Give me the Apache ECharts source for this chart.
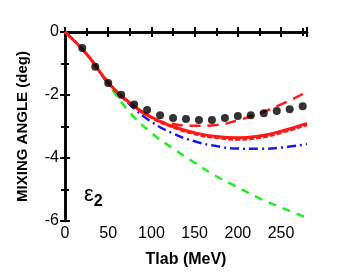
<!DOCTYPE html>
<html><head><meta charset="utf-8">
<script src="https://cdn.jsdelivr.net/npm/echarts@6/dist/echarts.min.js"></script>
<style>html,body{margin:0;padding:0;background:#fff}#c{width:357px;height:273px}</style>
</head><body><div id="c"></div>
<script>
var xTicks = [0, 50, 100, 150, 200, 250];
var yTicks = [0, -2, -4, -6];
var dotX = [20, 35, 50, 65, 80, 95, 110, 125, 140, 155, 170, 185, 200, 215, 230, 245, 260, 275];
var dotY = [-0.51, -1.10, -1.62, -1.99, -2.30, -2.48, -2.64, -2.73, -2.76, -2.79, -2.79, -2.73, -2.67, -2.64, -2.58, -2.51, -2.45, -2.36];
var curveX = [0, 25, 50, 75, 100, 125, 150, 175, 200, 225, 250, 280];
var redSolid = [0, -0.7, -1.6, -2.25, -2.7, -3.0, -3.2, -3.32, -3.36, -3.3, -3.15, -2.9];
var redShort = [0, -0.7, -1.6, -2.25, -2.72, -3.03, -3.24, -3.36, -3.41, -3.36, -3.2, -2.95];
var redLong = [0, -0.7, -1.6, -2.25, -2.72, -2.92, -2.98, -2.95, -2.8, -2.58, -2.3, -1.9];
var blueDashDot = [0, -0.7, -1.62, -2.3, -2.85, -3.22, -3.47, -3.62, -3.7, -3.71, -3.67, -3.56];
var greenDash = [0, -0.7, -1.65, -2.55, -3.2, -3.7, -4.15, -4.58, -4.93, -5.28, -5.57, -5.9];

function pairs(xs, ys) { return xs.map(function (x, i) { return [x, ys[i]]; }); }

var chart = echarts.init(document.getElementById('c'));
var axisLine = { lineStyle: { color: '#000', width: 2.5 } };
var tick = { inside: true, length: 5, lineStyle: { color: '#000', width: 2 } };
var minor = { show: true, splitNumber: 2, length: 4, lineStyle: { color: '#000', width: 2 } };
var font = 'Liberation Sans, Arial, sans-serif';
chart.setOption({
  animation: false,
  grid: { left: 65, right: 50, top: 32, bottom: 46 },
  xAxis: [{
    type: 'value', min: 0, max: 280, interval: 50, position: 'bottom',
    axisLine: axisLine, axisTick: tick, minorTick: minor,
    axisLabel: { showMaxLabel: false, color: '#000', fontSize: 16, fontFamily: font, margin: 5,
      formatter: function (v) { return xTicks.indexOf(v) >= 0 ? String(v) : ''; } },
    splitLine: { show: false },
    name: 'Tlab (MeV)', nameLocation: 'middle', nameGap: 31,
    nameTextStyle: { color: '#000', fontSize: 16, fontWeight: 'bold', fontFamily: font }
  }, {
    type: 'value', min: 0, max: 280, interval: 50, position: 'top',
    axisLine: axisLine, axisTick: tick, minorTick: minor,
    axisLabel: { show: false }, splitLine: { show: false }
  }],
  yAxis: [{
    type: 'value', min: -6, max: 0, interval: 2, position: 'left',
    axisLine: axisLine, axisTick: tick, minorTick: minor,
    axisLabel: { color: '#000', fontSize: 16, fontFamily: font, margin: 6,
      formatter: function (v) { return yTicks.indexOf(v) >= 0 ? String(v) : ''; } },
    splitLine: { show: false },
    name: 'MIXING ANGLE (deg)', nameLocation: 'middle', nameGap: 35,
    nameTextStyle: { color: '#000', fontSize: 15, fontWeight: 'bold', fontFamily: font }
  }, {
    type: 'value', min: -6, max: 0, interval: 2, position: 'right',
    axisLine: axisLine, axisTick: tick, minorTick: minor,
    axisLabel: { show: false }, splitLine: { show: false }
  }],
  graphic: [{
    type: 'text', left: 84, top: 184,
    style: { text: '{e|ε}{s|2}', rich: {
      e: { fontSize: 22, fontFamily: font, fill: '#000' },
      s: { fontSize: 16, fontFamily: font, fill: '#000', fontWeight: 'bold', padding: [14, 0, 0, 0] } } }
  }],
  series: [
    { type: 'line', data: pairs(curveX, greenDash), smooth: true, symbol: 'none',
      lineStyle: { color: '#22ee22', width: 2.5, type: [8, 7] }, z: 2 },
    { type: 'line', data: pairs(curveX, blueDashDot), smooth: true, symbol: 'none',
      lineStyle: { color: '#1a1aee', width: 2.5, type: [9, 4, 2, 4] }, z: 3 },
    { type: 'line', data: pairs(curveX, redShort), smooth: true, symbol: 'none',
      lineStyle: { color: '#ff1a1a', width: 2.5, type: [5, 2] }, z: 4 },
    { type: 'line', data: pairs(curveX, redLong), smooth: true, symbol: 'none',
      lineStyle: { color: '#ff1a1a', width: 2.5, type: [11, 7] }, z: 4 },
    { type: 'line', data: pairs(curveX, redSolid), smooth: true, symbol: 'none',
      lineStyle: { color: '#ff1a1a', width: 3 }, z: 5 },
    { type: 'scatter', data: pairs(dotX, dotY), symbol: 'circle', symbolSize: 8,
      itemStyle: { color: '#000' }, z: 6 }
  ]
});
</script></body></html>
